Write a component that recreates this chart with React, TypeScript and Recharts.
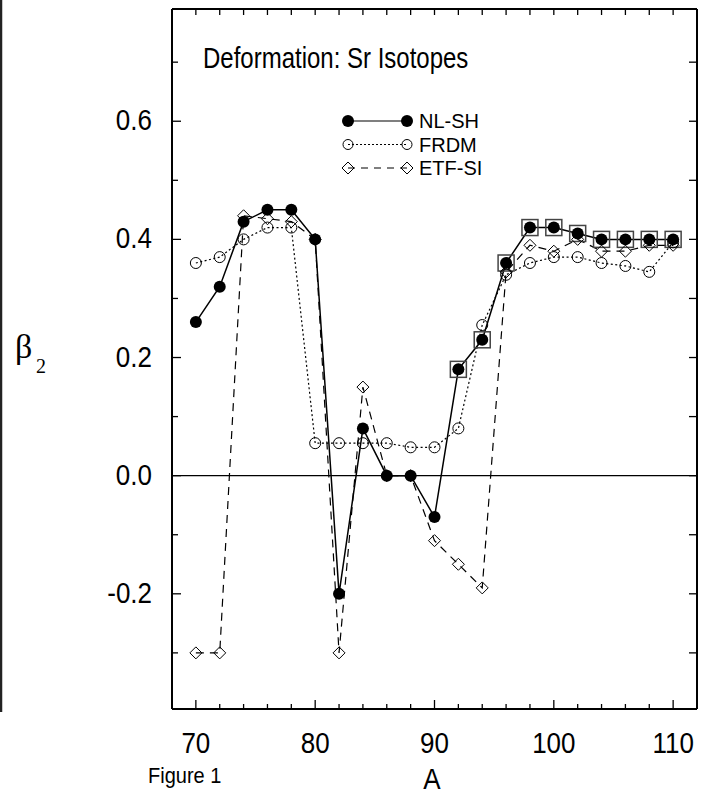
import React from "react";
import { LineChart, Line, XAxis, YAxis, ReferenceLine, Legend } from "recharts";

// mass numbers of the Sr isotopes
const massNumbers = [70, 72, 74, 76, 78, 80, 82, 84, 86, 88, 90, 92, 94, 96, 98, 100, 102, 104, 106, 108, 110];

// beta_2 for each model
const nlsh = [0.26, 0.32, 0.43, 0.45, 0.45, 0.4, -0.2, 0.08, 0.0, 0.0, -0.07, 0.18, 0.23, 0.36, 0.42, 0.42, 0.41, 0.4, 0.4, 0.4, 0.4];
const frdm = [0.36, 0.37, 0.4, 0.42, 0.42, 0.055, 0.055, 0.055, 0.055, 0.048, 0.048, 0.08, 0.255, 0.34, 0.36, 0.37, 0.37, 0.36, 0.355, 0.345, 0.395];
const etfsi = [-0.3, -0.3, 0.44, 0.435, 0.43, 0.4, -0.3, 0.15, 0.0, 0.0, -0.11, -0.15, -0.19, 0.345, 0.39, 0.38, 0.4, 0.38, 0.38, 0.39, 0.39];

// NL-SH points drawn with a box around them
const boxedMasses = [92, 94, 96, 98, 100, 102, 104, 106, 108, 110];

const xTicks = [70, 72, 74, 76, 78, 80, 82, 84, 86, 88, 90, 92, 94, 96, 98, 100, 102, 104, 106, 108, 110];
const xLabels = [70, 80, 90, 100, 110];
const yTicks = [-0.3, -0.2, -0.1, 0, 0.1, 0.2, 0.3, 0.4, 0.5, 0.6, 0.7];

const rows = massNumbers.map((a, i) => ({
  A: a,
  nlsh: nlsh[i],
  frdm: frdm[i],
  etfsi: etfsi[i],
  box: boxedMasses.includes(a) ? nlsh[i] : null,
}));

const FONT = "'Liberation Sans', Arial, sans-serif";
const SERIF = "'Liberation Serif', 'Times New Roman', serif";
const W = 708;
const H = 794;

// ----- markers -----

const FilledDot = (p: any) =>
  p.cy == null ? <g key={p.index} /> : <circle key={p.index} cx={p.cx} cy={p.cy} r={6} fill="#000" stroke="none" />;

const OpenDot = (p: any) =>
  p.cy == null ? <g key={p.index} /> : <circle key={p.index} cx={p.cx} cy={p.cy} r={5.5} fill="none" stroke="#000" strokeWidth={1} />;

const Diamond = (p: any) => {
  if (p.cy == null) return <g key={p.index} />;
  const s = 6;
  const { cx, cy } = p;
  return (
    <path
      key={p.index}
      d={`M${cx},${cy - s}L${cx + s},${cy}L${cx},${cy + s}L${cx - s},${cy}Z`}
      fill="none"
      stroke="#000"
      strokeWidth={1}
    />
  );
};

const BoxDot = (p: any) => {
  if (p.cy == null || p.value == null) return <g key={p.index} />;
  const s = 8;
  return <rect key={p.index} x={p.cx - s} y={p.cy - s} width={2 * s} height={2 * s} fill="none" stroke="#444" strokeWidth={1.5} />;
};

// ----- ticks (all pointing into the frame) -----

const BottomTick = (p: any) => {
  const v = p.payload.value;
  const major = xLabels.includes(v);
  return (
    <g>
      <line x1={p.x} x2={p.x} y1={p.y} y2={p.y - (major ? 9 : 5)} stroke="#000" strokeWidth={1.3} />
      {major && (
        <text transform={`translate(${p.x},${p.y + 44}) scale(1,1.15)`} textAnchor="middle" fontSize={26} fontFamily={FONT} fill="#000">
          {v}
        </text>
      )}
    </g>
  );
};

const TopTick = (p: any) => <line x1={p.x} x2={p.x} y1={p.y} y2={p.y + 6} stroke="#000" strokeWidth={1.3} />;

const LeftTick = (p: any) => {
  const v = p.payload.value;
  const major = Math.round(v * 10) % 2 === 0;
  return (
    <g>
      <line x1={p.x} x2={p.x + (major ? 9 : 6)} y1={p.y} y2={p.y} stroke="#000" strokeWidth={1.3} />
      {major && (
        <text transform={`translate(${p.x - 20},${p.y + 9}) scale(1,1.15)`} textAnchor="end" fontSize={26} fontFamily={FONT} fill="#000">
          {v.toFixed(1)}
        </text>
      )}
    </g>
  );
};

const RightTick = (p: any) => <line x1={p.x} x2={p.x - 8} y1={p.y} y2={p.y} stroke="#000" strokeWidth={1.3} />;

// ----- legend -----

const LEGEND_ORDER = ["nlsh", "frdm", "etfsi"];

const LEGEND_STYLE: Record<string, { dash: string; marker: (cx: number, cy: number) => React.ReactNode }> = {
  nlsh: { dash: "none", marker: (cx, cy) => <circle cx={cx} cy={cy} r={6} fill="#000" /> },
  frdm: { dash: "2 2", marker: (cx, cy) => <circle cx={cx} cy={cy} r={5} fill="none" stroke="#000" /> },
  etfsi: {
    dash: "7 6",
    marker: (cx, cy) => <path d={`M${cx},${cy - 6}L${cx + 6},${cy}L${cx},${cy + 6}L${cx - 6},${cy}Z`} fill="none" stroke="#000" />,
  },
};

const renderLegend = (props: any) => {
  const items = (props.payload || [])
    .filter((e: any) => LEGEND_STYLE[e.dataKey])
    .sort((a: any, b: any) => LEGEND_ORDER.indexOf(a.dataKey) - LEGEND_ORDER.indexOf(b.dataKey));
  return (
    <svg width={150} height={76} style={{ display: "block", overflow: "visible" }}>
      {items.map((e: any, i: number) => {
        const st = LEGEND_STYLE[e.dataKey];
        const y = 17 + i * 23.5;
        return (
          <g key={e.dataKey}>
            <line x1={8} x2={67} y1={y} y2={y} stroke="#000" strokeWidth={1.2} strokeDasharray={st.dash} />
            {st.marker(8, y)}
            {st.marker(67, y)}
            <text x={79} y={y + 7} fontSize={20} fontFamily={FONT} fill="#000">
              {e.value}
            </text>
          </g>
        );
      })}
    </svg>
  );
};

export default function App() {
  return (
    <div style={{ position: "absolute", left: 0, top: 0, width: W, height: H, background: "#fff" }}>
      <LineChart width={W} height={H} data={rows} margin={{ top: 8, right: 10, bottom: 84, left: 171 }}>
        <XAxis
          dataKey="A"
          type="number"
          domain={[68, 112]}
          ticks={xTicks}
          interval={0}
          allowDataOverflow
          height={1}
          tickSize={0}
          tickMargin={0}
          tick={BottomTick}
          axisLine={{ stroke: "#000", strokeWidth: 2 }}
          tickLine={false}
        />
        <XAxis
          xAxisId="top"
          orientation="top"
          dataKey="A"
          type="number"
          domain={[68, 112]}
          ticks={xTicks}
          interval={0}
          allowDataOverflow
          height={1}
          tickSize={0}
          tickMargin={0}
          tick={TopTick}
          axisLine={{ stroke: "#000", strokeWidth: 2 }}
          tickLine={false}
        />
        <YAxis
          type="number"
          domain={[-0.395, 0.79]}
          ticks={yTicks}
          interval={0}
          allowDataOverflow
          width={1}
          tickSize={0}
          tickMargin={0}
          tick={LeftTick}
          axisLine={{ stroke: "#000", strokeWidth: 2 }}
          tickLine={false}
        />
        <YAxis
          yAxisId="right"
          orientation="right"
          type="number"
          domain={[-0.395, 0.79]}
          ticks={yTicks}
          interval={0}
          allowDataOverflow
          width={1}
          tickSize={0}
          tickMargin={0}
          tick={RightTick}
          axisLine={{ stroke: "#000", strokeWidth: 2 }}
          tickLine={false}
        />
        <ReferenceLine y={0} stroke="#000" strokeWidth={1.2} />
        <Legend
          layout="vertical"
          align="center"
          verticalAlign="middle"
          wrapperStyle={{ left: 340, top: 104, width: 160 }}
          content={renderLegend}
        />
        <Line dataKey="box" stroke="none" dot={BoxDot} activeDot={false} legendType="none" isAnimationActive={false} />
        <Line
          dataKey="etfsi"
          name="ETF-SI"
          stroke="#000"
          strokeWidth={1.2}
          strokeDasharray="8 6"
          dot={Diamond}
          activeDot={false}
          isAnimationActive={false}
        />
        <Line
          dataKey="frdm"
          name="FRDM"
          stroke="#000"
          strokeWidth={1.2}
          strokeDasharray="2 2.5"
          dot={OpenDot}
          activeDot={false}
          isAnimationActive={false}
        />
        <Line dataKey="nlsh" name="NL-SH" stroke="#000" strokeWidth={1.5} dot={FilledDot} activeDot={false} isAnimationActive={false} />
      </LineChart>

      {/* titles and axis names */}
      <svg width={W} height={H} style={{ position: "absolute", left: 0, top: 0, pointerEvents: "none" }}>
        <line x1={1} x2={1} y1={0} y2={712} stroke="#222" strokeWidth={2.5} />
        <text transform="translate(203,68) scale(1,1.2)" fontSize={24} fontFamily={FONT} fill="#000">
          Deformation: Sr Isotopes
        </text>
        <text x={15} y={358} fontSize={34} fontFamily={SERIF} fill="#000">
          β
        </text>
        <text x={36} y={373} fontSize={20} fontFamily={SERIF} fill="#000">
          2
        </text>
        <text transform="translate(432,789) scale(1,1.12)" textAnchor="middle" fontSize={26} fontFamily={FONT} fill="#000">
          A
        </text>
        <text transform="translate(148,783) scale(1,1.12)" fontSize={20} fontFamily={FONT} fill="#000">
          Figure 1
        </text>
      </svg>
    </div>
  );
}
